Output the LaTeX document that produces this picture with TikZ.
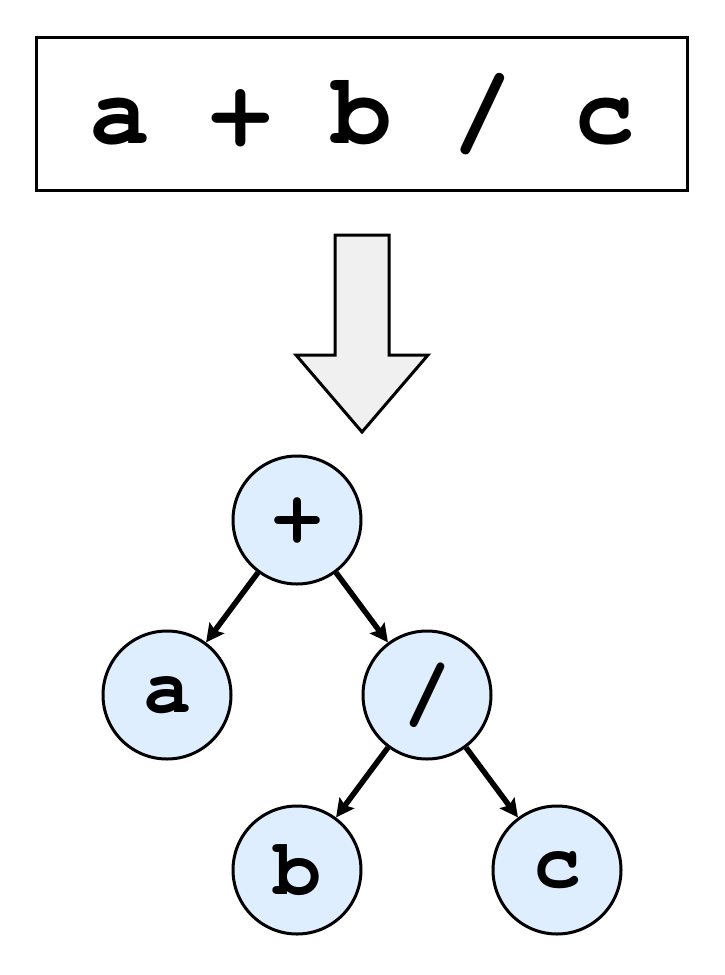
\documentclass[tikz,border=0pt]{standalone}
\usepackage{fontspec}
\newfontfamily\codefont{TeX Gyre Cursor}
\usetikzlibrary{arrows.meta}
\definecolor{nodefill}{RGB}{222,238,255}
\definecolor{arrowfill}{RGB}{240,240,240}
\begin{document}
\begin{tikzpicture}[x=1pt,y=-1pt,
  treenode/.style={circle,draw=black,line width=3pt,fill=nodefill,minimum size=128pt,inner sep=0pt,
    font=\codefont\bfseries\fontsize{80}{80}\selectfont},
  treeedge/.style={draw=black,line width=5.5pt,-{Stealth[length=18pt,width=18pt,inset=3pt]}}]
\useasboundingbox (0,0) rectangle (725,975);
\node[draw=black,line width=3pt,minimum width=651pt,minimum height=153pt,inner sep=0pt,
  font=\codefont\bfseries\fontsize{101}{101}\selectfont] (expr) at (362,114) {a + b / c};
\draw[line width=3pt,fill=arrowfill,line join=miter]
  (335,235) -- (389,235) -- (389,355) -- (428,355) -- (362,432) -- (296,355) -- (335,355) -- cycle;
\node[treenode] (plus) at (297,520) {+};
\node[treenode] (a) at (167,695) {a};
\node[treenode] (div) at (427,695) {/};
\node[treenode] (b) at (297,870) {b};
\node[treenode] (c) at (557,870) {c};
\draw[treeedge] (plus) -- (a);
\draw[treeedge] (plus) -- (div);
\draw[treeedge] (div) -- (b);
\draw[treeedge] (div) -- (c);
\end{tikzpicture}
\end{document}
